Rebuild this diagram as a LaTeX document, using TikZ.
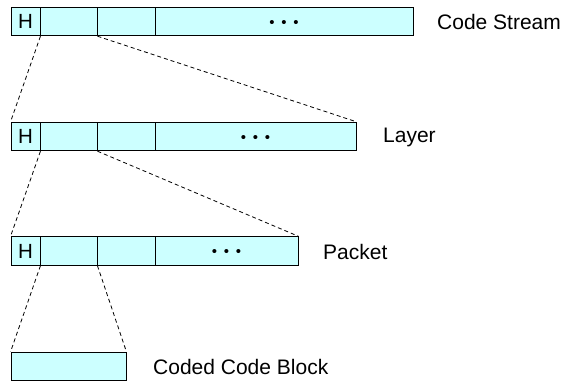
\documentclass[tikz,border=0pt]{standalone}
\usepackage{fontspec}
\setmainfont{Liberation Sans}
\begin{document}
\begin{tikzpicture}[x=1pt,y=-1pt,
  cell/.style={draw=black,fill=cyan!20,line width=0.9pt,inner sep=0pt,
    minimum height=28.5pt,font=\fontsize{20.5}{23}\selectfont},
  label/.style={anchor=west,inner sep=0pt,font=\fontsize{21}{24}\selectfont},
  dots/.style={inner sep=0pt,yshift=-2pt,font=\fontsize{15}{17}\selectfont},
  zoomline/.style={dash pattern=on 4pt off 3pt,line width=0.8pt}]
\useasboundingbox (0,0) rectangle (566,384);
\definecolor{cellfill}{HTML}{CCFFFF}
\tikzset{cell/.append style={fill=cellfill}}

% Code stream
\node[cell,minimum width=29pt]  (sH) at (25.5,21.5) {H};
\node[cell,minimum width=57pt]  (s1) at (68.5,21.5) {};
\node[cell,minimum width=58pt]  (s2) at (126,21.5) {};
\node[cell,minimum width=258pt] (s3) at (284,21.5) {};
\node[dots] (sd) at (s3.center) {•\hspace{6.7pt}•\hspace{6.7pt}•};
\node[label] (sl) at (437,22) {Code Stream};

% Layer
\node[cell,minimum width=29pt]  (lH) at (25.5,136.5) {H};
\node[cell,minimum width=57pt]  (l1) at (68.5,136.5) {};
\node[cell,minimum width=58pt]  (l2) at (126,136.5) {};
\node[cell,minimum width=201pt] (l3) at (255.5,136.5) {};
\node[dots] (ld) at (l3.center) {•\hspace{6.7pt}•\hspace{6.7pt}•};
\node[label] (ll) at (383,137) {Layer};

% Packet
\node[cell,minimum width=29pt]  (pH) at (25.5,251) {H};
\node[cell,minimum width=57pt]  (p1) at (68.5,251) {};
\node[cell,minimum width=58pt]  (p2) at (126,251) {};
\node[cell,minimum width=143pt] (p3) at (226.5,251) {};
\node[dots] (pd) at (p3.center) {•\hspace{6.7pt}•\hspace{6.7pt}•};
\node[label] (pl) at (323,252) {Packet};

% Coded code block
\node[cell,minimum width=115pt] (cb) at (68.5,366.5) {};
\node[label] (cl) at (153,367) {Coded Code Block};

% Expansion lines
\draw[zoomline] (sH.south east) -- (lH.north west);
\draw[zoomline] (s1.south east) -- (l3.north east);
\draw[zoomline] (lH.south east) -- (pH.north west);
\draw[zoomline] (l1.south east) -- (p3.north east);
\draw[zoomline] (pH.south east) -- (cb.north west);
\draw[zoomline] (p1.south east) -- (cb.north east);
\end{tikzpicture}
\end{document}
